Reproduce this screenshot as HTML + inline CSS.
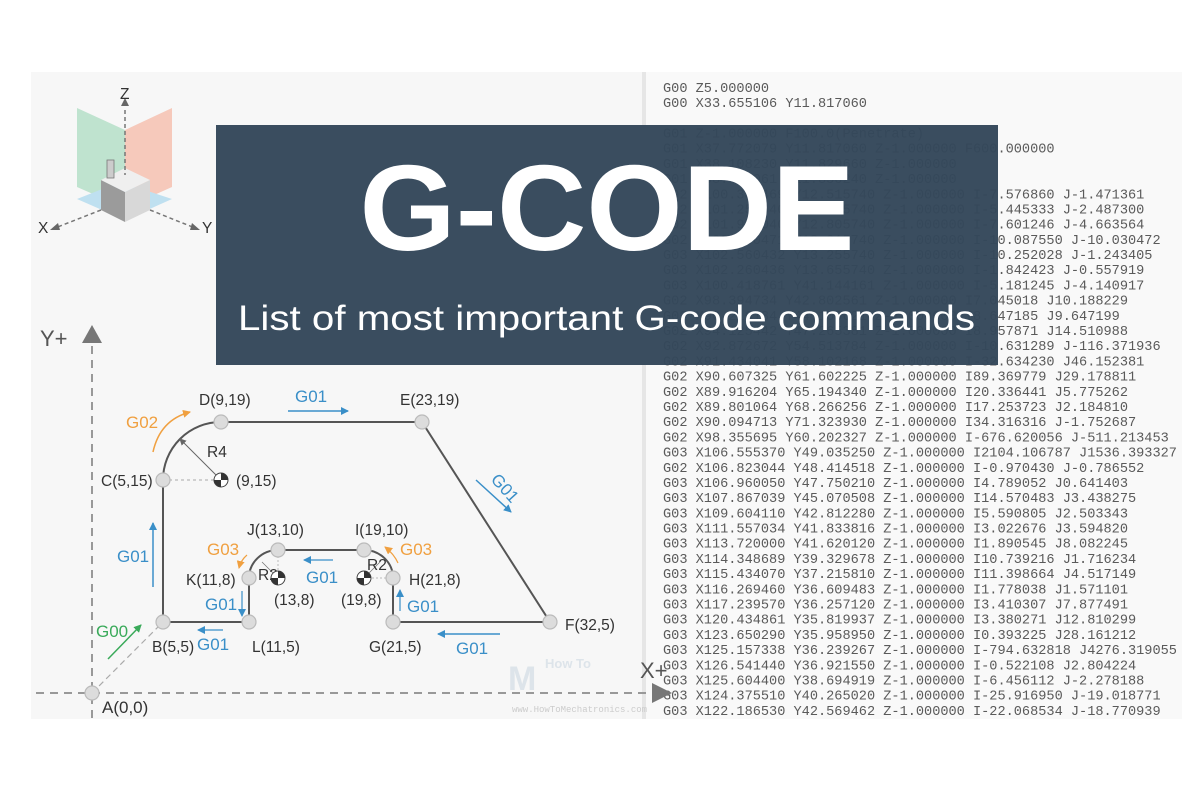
<!DOCTYPE html>
<html><head><meta charset="utf-8"><style>
html,body{margin:0;padding:0;background:#fff;}
svg{display:block;}
.code{font-family:"Liberation Mono",monospace;font-size:13.6px;fill:#5a5a5a;}
.lbl{font-family:"Liberation Sans",sans-serif;font-size:15.5px;fill:#333;}
.b{font-family:"Liberation Sans",sans-serif;font-size:17px;fill:#3a8fc8;}
.o{font-family:"Liberation Sans",sans-serif;font-size:17px;fill:#f0a040;}
</style></head><body>
<svg width="1200" height="800" viewBox="0 0 1200 800" xmlns="http://www.w3.org/2000/svg">
<defs>
<marker id="ab" markerWidth="8" markerHeight="8" refX="7" refY="4" orient="auto" markerUnits="userSpaceOnUse"><path d="M0,0 L8,4 L0,8 z" fill="#3a8fc8"/></marker>
<marker id="ao" markerWidth="8" markerHeight="8" refX="7" refY="4" orient="auto" markerUnits="userSpaceOnUse"><path d="M0,0 L8,4 L0,8 z" fill="#f0a040"/></marker>
<marker id="ag" markerWidth="8" markerHeight="8" refX="7" refY="4" orient="auto" markerUnits="userSpaceOnUse"><path d="M0,0 L8,4 L0,8 z" fill="#3aaa5a"/></marker>
<marker id="ak" markerWidth="7" markerHeight="7" refX="6" refY="3.5" orient="auto" markerUnits="userSpaceOnUse"><path d="M0,0 L7,3.5 L0,7 z" fill="#666"/></marker>
</defs>
<rect x="31" y="72" width="620" height="647" fill="#f7f7f7"/>
<rect x="645" y="72" width="537" height="647" fill="#f9f9f9"/>
<rect x="642" y="72" width="4" height="647" fill="#e6e6e6"/>

<g class="code">
<text x="663" y="92">G00 Z5.000000</text>
<text x="663" y="107">G00 X33.655106 Y11.817060</text>
<text x="663" y="137.5">G01 Z-1.000000 F100.0(Penetrate)</text>
<text x="663" y="152.7">G01 X37.772079 Y11.817060 Z-1.000000 F600.000000</text>
<text x="663" y="167.9">G01 X38.108230 Y11.829660 Z-1.000000</text>
<text x="663" y="183.1">G01 X38.452061 Y11.850240 Z-1.000000</text>
<text x="663" y="198.3">G02 X100.386469 Y12.515740 Z-1.000000 I-7.576860 J-1.471361</text>
<text x="663" y="213.5">G02 X101.257440 Y12.655740 Z-1.000000 I-5.445333 J-2.487300</text>
<text x="663" y="228.6">G02 X101.911040 Y12.805740 Z-1.000000 I-7.601246 J-4.663564</text>
<text x="663" y="243.8">G02 X102.380471 Y13.015740 Z-1.000000 I-10.087550 J-10.030472</text>
<text x="663" y="259.0">G03 X102.560432 Y13.255740 Z-1.000000 I-10.252028 J-1.243405</text>
<text x="663" y="274.2">G03 X102.260436 Y13.655740 Z-1.000000 I-1.842423 J-0.557919</text>
<text x="663" y="289.4">G03 X100.418761 Y41.144161 Z-1.000000 I-5.181245 J-4.140917</text>
<text x="663" y="304.6">G02 X98.394734 Y42.802561 Z-1.000000 I7.045018 J10.188229</text>
<text x="663" y="319.8">G02 X96.216134 Y44.109621 Z-1.000000 I8.647185 J9.647199</text>
<text x="663" y="335.0">G02 X94.125442 Y47.265381 Z-1.000000 I8.957871 J14.510988</text>
<text x="663" y="350.2">G02 X92.872672 Y54.513784 Z-1.000000 I-10.631289 J-116.371936</text>
<text x="663" y="365.4">G02 X91.434041 Y58.102168 Z-1.000000 I-32.634230 J46.152381</text>
<text x="663" y="380.6">G02 X90.607325 Y61.602225 Z-1.000000 I89.369779 J29.178811</text>
<text x="663" y="395.8">G02 X89.916204 Y65.194340 Z-1.000000 I20.336441 J5.775262</text>
<text x="663" y="411.0">G02 X89.801064 Y68.266256 Z-1.000000 I17.253723 J2.184810</text>
<text x="663" y="426.2">G02 X90.094713 Y71.323930 Z-1.000000 I34.316316 J-1.752687</text>
<text x="663" y="441.4">G02 X98.355695 Y60.202327 Z-1.000000 I-676.620056 J-511.213453</text>
<text x="663" y="456.6">G03 X106.555370 Y49.035250 Z-1.000000 I2104.106787 J1536.393327</text>
<text x="663" y="471.8">G02 X106.823044 Y48.414518 Z-1.000000 I-0.970430 J-0.786552</text>
<text x="663" y="487.0">G03 X106.960050 Y47.750210 Z-1.000000 I4.789052 J0.641403</text>
<text x="663" y="502.2">G03 X107.867039 Y45.070508 Z-1.000000 I14.570483 J3.438275</text>
<text x="663" y="517.4">G03 X109.604110 Y42.812280 Z-1.000000 I5.590805 J2.503343</text>
<text x="663" y="532.5">G03 X111.557034 Y41.833816 Z-1.000000 I3.022676 J3.594820</text>
<text x="663" y="547.7">G03 X113.720000 Y41.620120 Z-1.000000 I1.890545 J8.082245</text>
<text x="663" y="562.9">G03 X114.348689 Y39.329678 Z-1.000000 I10.739216 J1.716234</text>
<text x="663" y="578.1">G03 X115.434070 Y37.215810 Z-1.000000 I11.398664 J4.517149</text>
<text x="663" y="593.3">G03 X116.269460 Y36.609483 Z-1.000000 I1.778038 J1.571101</text>
<text x="663" y="608.5">G03 X117.239570 Y36.257120 Z-1.000000 I3.410307 J7.877491</text>
<text x="663" y="623.7">G03 X120.434861 Y35.819937 Z-1.000000 I3.380271 J12.810299</text>
<text x="663" y="638.9">G03 X123.650290 Y35.958950 Z-1.000000 I0.393225 J28.161212</text>
<text x="663" y="654.1">G03 X125.157338 Y36.239267 Z-1.000000 I-794.632818 J4276.319055</text>
<text x="663" y="669.3">G03 X126.541440 Y36.921550 Z-1.000000 I-0.522108 J2.804224</text>
<text x="663" y="684.5">G03 X125.604400 Y38.694919 Z-1.000000 I-6.456112 J-2.278188</text>
<text x="663" y="699.7">G03 X124.375510 Y40.265020 Z-1.000000 I-25.916950 J-19.018771</text>
<text x="663" y="714.9">G03 X122.186530 Y42.569462 Z-1.000000 I-22.068534 J-18.770939</text>
</g>

<g>
<polygon points="125,130 125,208 77,187 77,108" fill="#bfe3cf"/>
<polygon points="125,130 125,208 172,187 172,108" fill="#f6c9bb"/>
<polygon points="125,220 77,199 120,182 172,199" fill="#bfe0f0"/>
<polygon points="101,180 101,210 125,222 125,192" fill="#9b9b9b"/>
<polygon points="125,192 125,222 150,210 150,180" fill="#d8d8d8"/>
<polygon points="101,180 125,168 150,180 125,192" fill="#efefef"/>
<rect x="107" y="160" width="7" height="18" fill="#ccc" stroke="#777" stroke-width="0.8"/>
<line x1="125" y1="110" x2="125" y2="175" stroke="#777" stroke-width="1.5" stroke-dasharray="4,3"/>
<polygon points="121,106 129,106 125,98" fill="#666"/>
<line x1="101" y1="210" x2="55" y2="228" stroke="#777" stroke-width="1.5" stroke-dasharray="4,3"/>
<line x1="150" y1="210" x2="195" y2="228" stroke="#777" stroke-width="1.5" stroke-dasharray="4,3"/>
<polygon points="50,230 58,223 60,230" fill="#666"/>
<polygon points="200,230 192,223 190,230" fill="#666"/>
<text x="120" y="99" class="lbl" font-size="11">Z</text>
<text x="38" y="233" class="lbl" font-size="11">X</text>
<text x="202" y="233" class="lbl" font-size="11">Y</text>
</g>

<line x1="92" y1="718" x2="92" y2="345" stroke="#999" stroke-width="2" stroke-dasharray="8,6"/>
<polygon points="92,325 82,343 102,343" fill="#777"/>
<text x="40" y="346" font-family="Liberation Sans,sans-serif" font-size="22" fill="#555">Y+</text>
<line x1="36" y1="693" x2="655" y2="693" stroke="#999" stroke-width="2" stroke-dasharray="8,6"/>
<polygon points="672,693 652,683 652,703" fill="#777"/>
<text x="640" y="678" font-family="Liberation Sans,sans-serif" font-size="22" fill="#555">X+</text>
<line x1="92" y1="693" x2="163" y2="622" stroke="#aaa" stroke-width="1.2" stroke-dasharray="6,4"/>

<text x="508" y="690" font-family="Liberation Sans,sans-serif" font-size="34" font-weight="bold" fill="#dde4ea">M</text>
<text x="545" y="668" font-family="Liberation Sans,sans-serif" font-size="13" font-weight="bold" fill="#dde4ea">How To</text>
<text x="512" y="712" font-family="Liberation Mono,monospace" font-size="9" fill="#ccc">www.HowToMechatronics.com</text>

<path d="M163,622 L163,480 A58,58 0 0 1 221,422 L422,422 L550,622 L393,622 L393,578 A29,28 0 0 0 364,550 L278,550 A29,28 0 0 0 249,578 L249,622 Z" fill="none" stroke="#555" stroke-width="2"/>
<line x1="163" y1="480" x2="221" y2="480" stroke="#aaa" stroke-dasharray="3,3"/>
<line x1="221" y1="480" x2="180" y2="439" stroke="#666" marker-end="url(#ak)"/>
<text x="207" y="457" class="lbl" font-size="11">R4</text>
<line x1="278" y1="578" x2="262" y2="562" stroke="#777" stroke-width="0.8"/>
<line x1="364" y1="578" x2="380" y2="562" stroke="#777" stroke-width="0.8"/>
<text x="258" y="580" class="lbl" font-size="8">R2</text>
<text x="367" y="570" class="lbl" font-size="8">R2</text>
<line x1="364" y1="578" x2="393" y2="578" stroke="#bbb" stroke-dasharray="2,2"/>
<line x1="278" y1="578" x2="278" y2="550" stroke="#bbb" stroke-dasharray="2,2"/>

<g fill="#dcdcdc" stroke="#bbb" stroke-width="1.2">
<circle cx="92" cy="693" r="7"/><circle cx="163" cy="622" r="7"/><circle cx="163" cy="480" r="7"/>
<circle cx="221" cy="422" r="7"/><circle cx="422" cy="422" r="7"/><circle cx="550" cy="622" r="7"/>
<circle cx="393" cy="622" r="7"/><circle cx="393" cy="578" r="7"/><circle cx="364" cy="550" r="7"/>
<circle cx="278" cy="550" r="7"/><circle cx="249" cy="578" r="7"/><circle cx="249" cy="622" r="7"/>
</g>
<g>
<circle cx="221" cy="480" r="7" fill="#fff" stroke="#444"/><path d="M221,480 L221,473 A7,7 0 0 1 228,480 Z M221,480 L221,487 A7,7 0 0 1 214,480 Z" fill="#333"/>
<circle cx="278" cy="578" r="7" fill="#fff" stroke="#444"/><path d="M278,578 L278,571 A7,7 0 0 1 285,578 Z M278,578 L278,585 A7,7 0 0 1 271,578 Z" fill="#333"/>
<circle cx="364" cy="578" r="7" fill="#fff" stroke="#444"/><path d="M364,578 L364,571 A7,7 0 0 1 371,578 Z M364,578 L364,585 A7,7 0 0 1 357,578 Z" fill="#333"/>
</g>

<g class="lbl">
<text x="102" y="713" font-size="17">A(0,0)</text>
<text x="152" y="652">B(5,5)</text>
<text x="101" y="486">C(5,15)</text>
<text x="199" y="405">D(9,19)</text>
<text x="400" y="405">E(23,19)</text>
<text x="565" y="630">F(32,5)</text>
<text x="369" y="652">G(21,5)</text>
<text x="409" y="585">H(21,8)</text>
<text x="355" y="535">I(19,10)</text>
<text x="247" y="535">J(13,10)</text>
<text x="186" y="585">K(11,8)</text>
<text x="252" y="652">L(11,5)</text>
<text x="236" y="486">(9,15)</text>
<text x="274" y="605">(13,8)</text>
<text x="341" y="605">(19,8)</text>
</g>

<line x1="153" y1="587" x2="153" y2="523" stroke="#3a8fc8" stroke-width="1.5" marker-end="url(#ab)"/>
<text x="117" y="562" class="b">G01</text>
<line x1="108" y1="659" x2="141" y2="625" stroke="#3aaa5a" stroke-width="1.5" marker-end="url(#ag)"/>
<text x="96" y="637" font-family="Liberation Sans,sans-serif" font-size="17" fill="#3aaa5a">G00</text>
<line x1="223" y1="630" x2="198" y2="630" stroke="#3a8fc8" stroke-width="1.2" marker-end="url(#ab)"/>
<text x="197" y="650" class="b">G01</text>
<line x1="242" y1="591" x2="242" y2="616" stroke="#3a8fc8" stroke-width="1.2" marker-end="url(#ab)"/>
<text x="205" y="610" class="b">G01</text>
<line x1="333" y1="560" x2="304" y2="560" stroke="#3a8fc8" stroke-width="1.2" marker-end="url(#ab)"/>
<text x="306" y="583" class="b">G01</text>
<line x1="400" y1="611" x2="400" y2="590" stroke="#3a8fc8" stroke-width="1.2" marker-end="url(#ab)"/>
<text x="407" y="612" class="b">G01</text>
<line x1="500" y1="634" x2="438" y2="634" stroke="#3a8fc8" stroke-width="1.5" marker-end="url(#ab)"/>
<text x="456" y="654" class="b">G01</text>
<line x1="288" y1="411" x2="348" y2="411" stroke="#3a8fc8" stroke-width="1.5" marker-end="url(#ab)"/>
<text x="295" y="402" class="b">G01</text>
<line x1="476" y1="480" x2="511" y2="512" stroke="#3a8fc8" stroke-width="1.5" marker-end="url(#ab)"/>
<text x="0" y="0" class="b" transform="translate(490,480) rotate(48)">G01</text>
<path d="M153,452 Q160,420 190,412" fill="none" stroke="#f0a040" stroke-width="1.5" marker-end="url(#ao)"/>
<text x="126" y="428" class="o">G02</text>
<path d="M247,555 Q241,560 239,568" fill="none" stroke="#f0a040" stroke-width="1.2" marker-end="url(#ao)"/>
<text x="207" y="555" class="o">G03</text>
<path d="M398,563 Q394,554 385,547" fill="none" stroke="#f0a040" stroke-width="1.2" marker-end="url(#ao)"/>
<text x="400" y="555" class="o">G03</text>

<rect x="216" y="125" width="782" height="240" fill="#34475a" opacity="0.97"/>
<text x="607" y="250" text-anchor="middle" font-family="Liberation Sans,sans-serif" font-weight="bold" font-size="122" fill="#fff" textLength="495" lengthAdjust="spacingAndGlyphs">G-CODE</text>
<text x="238" y="330" font-family="Liberation Sans,sans-serif" font-size="35" fill="#fff" textLength="737" lengthAdjust="spacingAndGlyphs">List of most important G-code commands</text>
</svg>
</body></html>
